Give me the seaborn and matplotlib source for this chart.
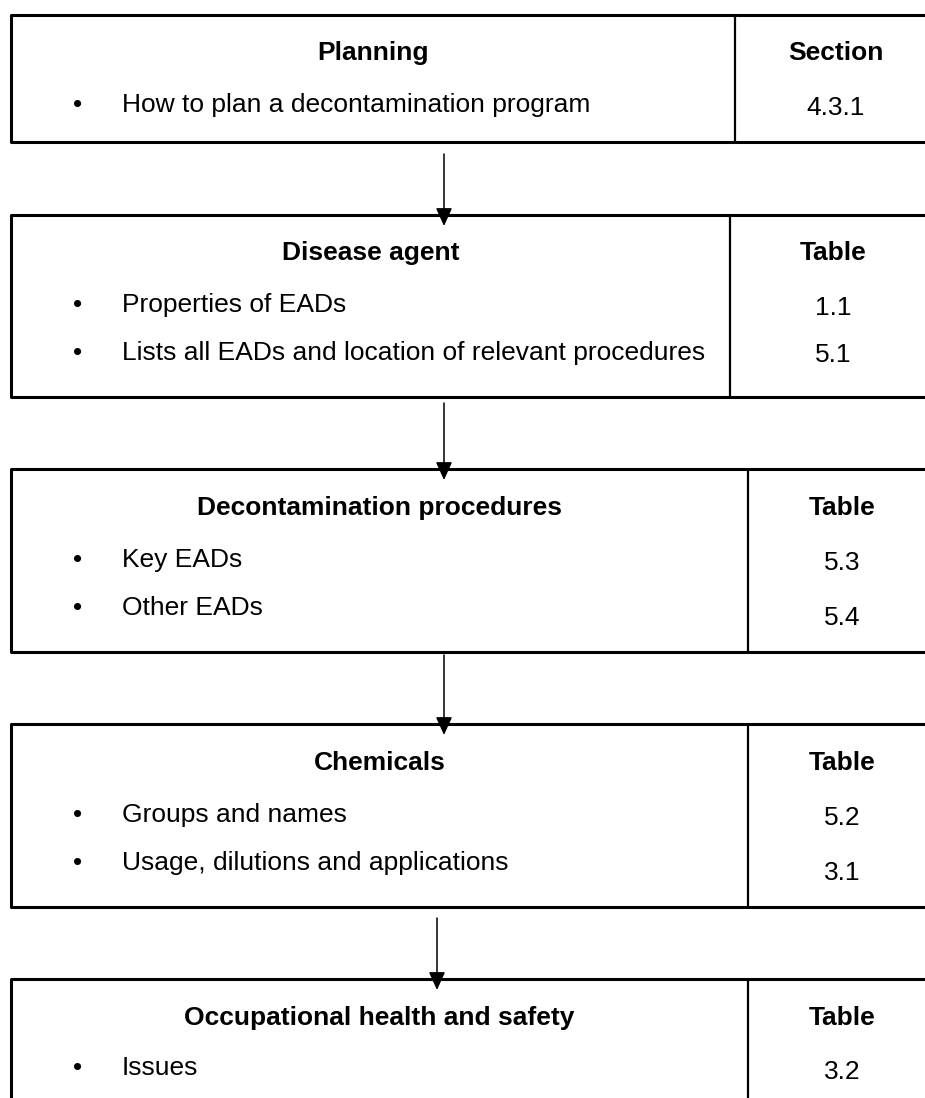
import matplotlib
matplotlib.use("Agg")
import matplotlib.pyplot as plt
import seaborn as sns

# Inhalt der Kästen
titles = ["Planning", "Disease agent", "Decontamination procedures",
          "Chemicals", "Occupational health and safety"]
ref_headers = ["Section", "Table", "Table", "Table", "Table"]
bullets = [
    ["How to plan a decontamination program"],
    ["Properties of EADs", "Lists all EADs and location of relevant procedures"],
    ["Key EADs", "Other EADs"],
    ["Groups and names", "Usage, dilutions and applications"],
    ["Issues"],
]
refs = [["4.3.1"], ["1.1", "5.1"], ["5.3", "5.4"], ["5.2", "3.1"], ["3.2"]]

# Layout (Pixel, y nach unten)
box_top = [15, 215, 469, 724, 979]
box_bottom = [142, 397, 652, 907, 1110]
divider_x = [735, 730, 748, 748, 748]
title_y = [53, 253, 508, 763, 1018]
bullet_y = [[105], [305, 353], [560, 608], [815, 863], [1068]]
ref_y = [[108], [308, 355], [563, 618], [818, 873], [1072]]
arrow_x = [444, 444, 444, 437]
arrow_start = [154, 403, 655, 918]

W, H = 925, 1098
LEFT, RIGHT = 11, 937

sns.set_style("white")
plt.rcParams['font.family'] = ['Liberation Sans', 'DejaVu Sans']

fig = plt.figure(figsize=(W / 100, H / 100), dpi=100)
ax = fig.add_axes([0, 0, 1, 1])
ax.set_xlim(0, W)
ax.set_ylim(H, 0)
ax.axis("off")

fs = 19
for i, title in enumerate(titles):
    top, bot, dv = box_top[i], box_bottom[i], divider_x[i]
    # Rahmen
    ax.plot([LEFT, RIGHT], [top, top], color="black", lw=2.2, solid_capstyle="butt")
    ax.plot([LEFT, RIGHT], [bot, bot], color="black", lw=2.2, solid_capstyle="butt")
    ax.plot([LEFT, LEFT], [top, bot], color="black", lw=2.2)
    ax.plot([dv, dv], [top, bot], color="black", lw=1.6)

    ax.text((LEFT + dv) / 2, title_y[i], title, ha="center", va="center",
            fontsize=fs, fontweight="bold", color="black")
    ax.text((dv + RIGHT) / 2, title_y[i], ref_headers[i], ha="center", va="center",
            fontsize=fs, fontweight="bold", color="black")
    for txt, y in zip(bullets[i], bullet_y[i]):
        ax.text(78, y, "\u2022", ha="center", va="center", fontsize=fs, color="black")
        ax.text(122, y, txt, ha="left", va="center", fontsize=fs, color="black")
    for txt, y in zip(refs[i], ref_y[i]):
        ax.text((dv + RIGHT) / 2, y, txt, ha="center", va="center",
                fontsize=fs, color="black")

# Pfeile zwischen den Kästen
for x, y0, y1 in zip(arrow_x, arrow_start, box_top[1:]):
    ax.annotate("", xy=(x, y1 + 11), xytext=(x, y0),
                arrowprops=dict(arrowstyle="-|>,head_length=1.1,head_width=0.5",
                                color="black", lw=1.1, shrinkA=0, shrinkB=0))

fig.savefig("out.png", dpi=100, facecolor="white")
